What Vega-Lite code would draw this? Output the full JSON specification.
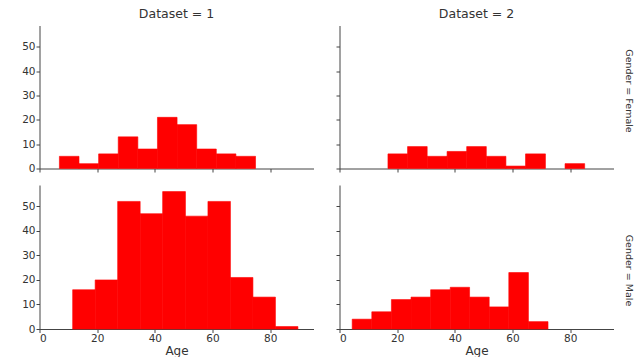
{
  "$schema": "https://vega.github.io/schema/vega-lite/v6.json",
  "padding": {"left": 21.5, "top": 7.5, "right": 0, "bottom": 0},
  "background": "white",
  "config": {
    "view": {"stroke": null},
    "font": "DejaVu Sans",
    "axis": {"grid": false, "domainColor": "#444", "tickColor": "#444", "labelColor": "#333", "labelFont": "DejaVu Sans", "labelFontSize": 10.5, "tickSize": 3.5, "labelPadding": 1, "titleFont": "DejaVu Sans", "titleFontSize": 12, "titleFontWeight": "normal", "titleColor": "#333"},
    "title": {"font": "DejaVu Sans", "fontSize": 12.5, "fontWeight": "normal", "color": "#333", "offset": 5},
    "bar": {"stroke": "#ff0000", "strokeWidth": 0.6},
    "concat": {"spacing": 10.5}
  },
  "data": {"values": [
    {"Dataset": 1, "Gender": "Female", "bin_start": 6.9, "bin_end": 13.7, "count": 5},
    {"Dataset": 1, "Gender": "Female", "bin_start": 13.7, "bin_end": 20.5, "count": 2},
    {"Dataset": 1, "Gender": "Female", "bin_start": 20.5, "bin_end": 27.3, "count": 6},
    {"Dataset": 1, "Gender": "Female", "bin_start": 27.3, "bin_end": 34.1, "count": 13},
    {"Dataset": 1, "Gender": "Female", "bin_start": 34.1, "bin_end": 40.9, "count": 8},
    {"Dataset": 1, "Gender": "Female", "bin_start": 40.9, "bin_end": 47.7, "count": 21},
    {"Dataset": 1, "Gender": "Female", "bin_start": 47.7, "bin_end": 54.5, "count": 18},
    {"Dataset": 1, "Gender": "Female", "bin_start": 54.5, "bin_end": 61.3, "count": 8},
    {"Dataset": 1, "Gender": "Female", "bin_start": 61.3, "bin_end": 68.1, "count": 6},
    {"Dataset": 1, "Gender": "Female", "bin_start": 68.1, "bin_end": 74.9, "count": 5},
    {"Dataset": 2, "Gender": "Female", "bin_start": 16.8, "bin_end": 23.6, "count": 6},
    {"Dataset": 2, "Gender": "Female", "bin_start": 23.6, "bin_end": 30.4, "count": 9},
    {"Dataset": 2, "Gender": "Female", "bin_start": 30.4, "bin_end": 37.3, "count": 5},
    {"Dataset": 2, "Gender": "Female", "bin_start": 37.3, "bin_end": 44.1, "count": 7},
    {"Dataset": 2, "Gender": "Female", "bin_start": 44.1, "bin_end": 50.9, "count": 9},
    {"Dataset": 2, "Gender": "Female", "bin_start": 50.9, "bin_end": 57.7, "count": 5},
    {"Dataset": 2, "Gender": "Female", "bin_start": 57.7, "bin_end": 64.5, "count": 1},
    {"Dataset": 2, "Gender": "Female", "bin_start": 64.5, "bin_end": 71.4, "count": 6},
    {"Dataset": 2, "Gender": "Female", "bin_start": 78.2, "bin_end": 85.0, "count": 2},
    {"Dataset": 1, "Gender": "Male", "bin_start": 11.5, "bin_end": 19.3, "count": 16},
    {"Dataset": 1, "Gender": "Male", "bin_start": 19.3, "bin_end": 27.1, "count": 20},
    {"Dataset": 1, "Gender": "Male", "bin_start": 27.1, "bin_end": 34.9, "count": 52},
    {"Dataset": 1, "Gender": "Male", "bin_start": 34.9, "bin_end": 42.7, "count": 47},
    {"Dataset": 1, "Gender": "Male", "bin_start": 42.7, "bin_end": 50.6, "count": 56},
    {"Dataset": 1, "Gender": "Male", "bin_start": 50.6, "bin_end": 58.4, "count": 46},
    {"Dataset": 1, "Gender": "Male", "bin_start": 58.4, "bin_end": 66.2, "count": 52},
    {"Dataset": 1, "Gender": "Male", "bin_start": 66.2, "bin_end": 74.0, "count": 21},
    {"Dataset": 1, "Gender": "Male", "bin_start": 74.0, "bin_end": 81.8, "count": 13},
    {"Dataset": 1, "Gender": "Male", "bin_start": 81.8, "bin_end": 89.6, "count": 1},
    {"Dataset": 2, "Gender": "Male", "bin_start": 4.4, "bin_end": 11.2, "count": 4},
    {"Dataset": 2, "Gender": "Male", "bin_start": 11.2, "bin_end": 18.0, "count": 7},
    {"Dataset": 2, "Gender": "Male", "bin_start": 18.0, "bin_end": 24.8, "count": 12},
    {"Dataset": 2, "Gender": "Male", "bin_start": 24.8, "bin_end": 31.6, "count": 13},
    {"Dataset": 2, "Gender": "Male", "bin_start": 31.6, "bin_end": 38.4, "count": 16},
    {"Dataset": 2, "Gender": "Male", "bin_start": 38.4, "bin_end": 45.1, "count": 17},
    {"Dataset": 2, "Gender": "Male", "bin_start": 45.1, "bin_end": 51.9, "count": 13},
    {"Dataset": 2, "Gender": "Male", "bin_start": 51.9, "bin_end": 58.7, "count": 9},
    {"Dataset": 2, "Gender": "Male", "bin_start": 58.7, "bin_end": 65.5, "count": 23},
    {"Dataset": 2, "Gender": "Male", "bin_start": 65.5, "bin_end": 72.3, "count": 3}
  ]},
  "vconcat": [
    {
      "title": {"text": "Gender = Female", "orient": "right", "anchor": "middle", "offset": 10.5, "fontSize": 9.5},
      "spacing": 22,
      "hconcat": [
        {
          "title": "Dataset = 1",
          "width": 274, "height": 143,
          "transform": [{"filter": "datum.Dataset == 1 && datum.Gender == 'Female'"}],
          "mark": {"type": "bar", "color": "#ff0000"},
          "encoding": {
            "x": {"field": "bin_start", "type": "quantitative", "scale": {"domain": [0, 95], "nice": false}, "axis": {"values": [0, 20, 40, 60, 80], "labels": false, "title": null}},
            "x2": {"field": "bin_end"},
            "y": {"field": "count", "type": "quantitative", "scale": {"domain": [0, 58.7], "nice": false}, "axis": {"values": [0, 10, 20, 30, 40, 50], "title": null}},
            "y2": {"datum": 0}
          }
        },
        {
          "title": "Dataset = 2",
          "width": 274, "height": 143,
          "transform": [{"filter": "datum.Dataset == 2 && datum.Gender == 'Female'"}],
          "mark": {"type": "bar", "color": "#ff0000"},
          "encoding": {
            "x": {"field": "bin_start", "type": "quantitative", "scale": {"domain": [0, 95], "nice": false}, "axis": {"values": [0, 20, 40, 60, 80], "labels": false, "title": null}},
            "x2": {"field": "bin_end"},
            "y": {"field": "count", "type": "quantitative", "scale": {"domain": [0, 58.7], "nice": false}, "axis": {"values": [0, 10, 20, 30, 40, 50], "labels": false, "title": null}},
            "y2": {"datum": 0}
          }
        }
      ]
    },
    {
      "title": {"text": "Gender = Male", "orient": "right", "anchor": "middle", "offset": 10.5, "fontSize": 9.5},
      "spacing": 22,
      "hconcat": [
        {
          "width": 274, "height": 144,
          "transform": [{"filter": "datum.Dataset == 1 && datum.Gender == 'Male'"}],
          "mark": {"type": "bar", "color": "#ff0000"},
          "encoding": {
            "x": {"field": "bin_start", "type": "quantitative", "scale": {"domain": [0, 95], "nice": false}, "axis": {"values": [0, 20, 40, 60, 80], "title": "Age", "titlePadding": 1}},
            "x2": {"field": "bin_end"},
            "y": {"field": "count", "type": "quantitative", "scale": {"domain": [0, 58.7], "nice": false}, "axis": {"values": [0, 10, 20, 30, 40, 50], "title": null}},
            "y2": {"datum": 0}
          }
        },
        {
          "width": 274, "height": 144,
          "transform": [{"filter": "datum.Dataset == 2 && datum.Gender == 'Male'"}],
          "mark": {"type": "bar", "color": "#ff0000"},
          "encoding": {
            "x": {"field": "bin_start", "type": "quantitative", "scale": {"domain": [0, 95], "nice": false}, "axis": {"values": [0, 20, 40, 60, 80], "title": "Age", "titlePadding": 1}},
            "x2": {"field": "bin_end"},
            "y": {"field": "count", "type": "quantitative", "scale": {"domain": [0, 58.7], "nice": false}, "axis": {"values": [0, 10, 20, 30, 40, 50], "labels": false, "title": null}},
            "y2": {"datum": 0}
          }
        }
      ]
    }
  ]
}
